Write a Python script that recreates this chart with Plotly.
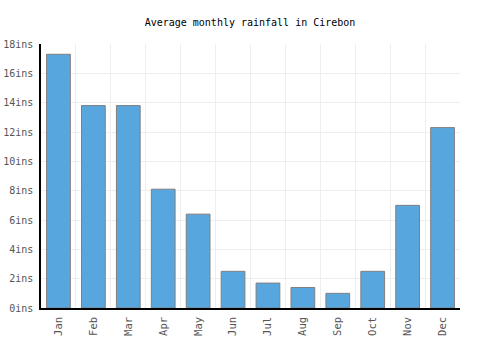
import plotly.graph_objects as go

months = ["Jan", "Feb", "Mar", "Apr", "May", "Jun", "Jul", "Aug", "Sep", "Oct", "Nov", "Dec"]
rainfall = [17.3, 13.8, 13.8, 8.1, 6.4, 2.5, 1.7, 1.4, 1.0, 2.5, 7.0, 12.3]
yticks = [0, 2, 4, 6, 8, 10, 12, 14, 16, 18]
yticktext = [f"{v}ins" for v in yticks]

fig = go.Figure()
fig.add_trace(go.Bar(
    x=months, y=rainfall,
    marker=dict(color="#58a6de", line=dict(color="#7f7f7f", width=1)),
    width=0.68,
))

font = "DejaVu Sans Mono, monospace"
fig.update_layout(
    width=500, height=350,
    margin=dict(l=41, r=40, t=44, b=42, autoexpand=False),
    paper_bgcolor="white", plot_bgcolor="white",
    showlegend=False,
    title=dict(text="Average monthly rainfall in Cirebon", x=0.5, xanchor="center",
               y=0.937, yanchor="middle", font=dict(family=font, size=10, color="#000")),
    font=dict(family=font, size=10, color="#555"),
    xaxis=dict(type="category", tickson="boundaries", showgrid=True, gridcolor="#eeeeee",
               tickangle=-90, showline=True, linecolor="#000", linewidth=1.5,
               ticks="", ticklabelstandoff=3, tickfont=dict(family=font, size=10.5, color="#555")),
    yaxis=dict(range=[0, 18], tickmode="array", tickvals=yticks, ticktext=yticktext,
               showgrid=True, gridcolor="#eeeeee", showline=True, linecolor="#000",
               linewidth=1.5, ticks="", zeroline=False, ticklabelstandoff=4,
               tickfont=dict(family=font, size=10, color="#555")),
)
fig.write_html("out.html")
